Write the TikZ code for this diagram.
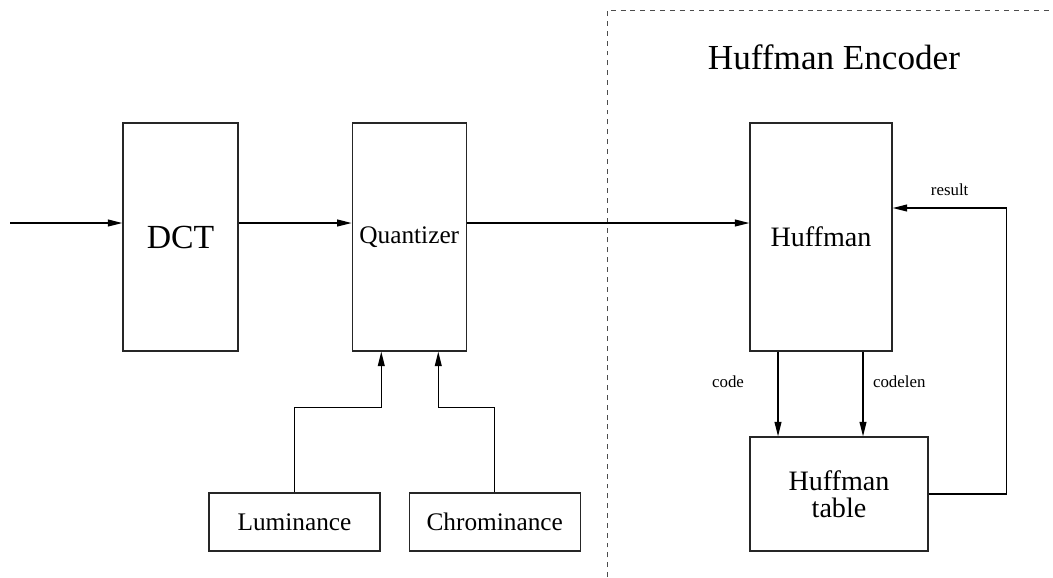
\documentclass[tikz,border=0pt]{standalone}
\usepackage{fontspec}
\setmainfont{Liberation Serif}
\usepackage{tikz}
\usetikzlibrary{arrows.meta, positioning}

\begin{document}
\begin{tikzpicture}[
        block/.style={rectangle, draw=black!85, line width=0.9pt, align=center,
                      inner sep=0pt},
        arrow/.style={-{Triangle[length=3.6mm, width=1.7mm]}, line width=0.9pt},
        lbl/.style={font=\fontsize{12}{13}\selectfont, inner sep=1pt}
      ]
      \useasboundingbox (0,0) rectangle (26.325,-14.425);

      \node[block, minimum width=2.875cm, minimum height=5.7cm,
            font=\fontsize{24}{26}\selectfont] (dct) at (4.5125,-5.925) {DCT};
      \node[block, minimum width=2.85cm, minimum height=5.7cm,
            font=\fontsize{18}{20}\selectfont, right=2.825cm of dct] (quant) {Quantizer};
      \node[block, minimum width=4.275cm, minimum height=1.45cm,
            font=\fontsize{18}{20}\selectfont] (lum) at (7.3625,-13.05) {Luminance};
      \node[block, minimum width=4.275cm, minimum height=1.45cm,
            font=\fontsize{18}{20}\selectfont, right=0.7cm of lum] (chrom) {Chrominance};
      \node[block, minimum width=3.55cm, minimum height=5.7cm,
            font=\fontsize{20}{22}\selectfont] (huff) at (20.525,-5.925) {Huffman};
      \node[block, minimum width=4.45cm, minimum height=2.85cm,
            font=\fontsize{20}{19}\selectfont] (tab) at (20.975,-12.35) {Huffman\\table};
      \node[font=\fontsize{25}{27}\selectfont] (title) at (20.85,-1.425) {Huffman Encoder};

      % encoder boundary
      \coordinate (split) at (15.175,-0.25);
      \draw[black!70, line width=0.6pt, dash pattern=on 3.5pt off 3.5pt]
        (split |- 0,-14.425) -- (split) -- (26.325,-0.25);

      \coordinate (in) at (0.25,-5.575);
      \draw[arrow] (in) -- (in -| dct.west);
      \draw[arrow] (dct.east |- in) -- (quant.west |- in);
      \draw[arrow] (quant.east |- in) -- (huff.west |- in);

      \draw[arrow] (lum.north) -- ++(0,2.125) -| ([xshift=-0.7cm]quant.south);
      \draw[arrow] (chrom.north) -- ++(0,2.125) -| ([xshift=0.725cm]quant.south);

      \draw[arrow] ([xshift=-1.075cm]huff.south) -- ([xshift=-1.075cm]huff.south |- tab.north)
        node[lbl, pos=0.35, left=0.8cm] {code};
      \draw[arrow] ([xshift=1.05cm]huff.south) -- ([xshift=1.05cm]huff.south |- tab.north)
        node[lbl, pos=0.35, right=0.2cm] {codelen};
      \draw[arrow] (tab.east) -- ++(1.95,0) |- ([yshift=0.725cm]huff.east)
        node[lbl, pos=0.75, above=0.25cm] {result};
    \end{tikzpicture}
\end{document}
